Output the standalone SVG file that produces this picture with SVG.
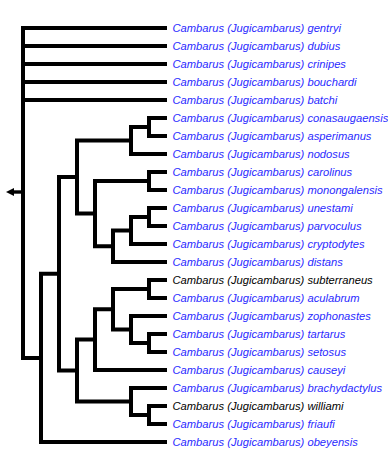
<svg xmlns="http://www.w3.org/2000/svg" width="388" height="453" viewBox="0 0 388 453">
<style>
.e{fill:none;stroke:#000;stroke-width:4;stroke-linejoin:miter;stroke-linecap:butt}
.t{font-family:"Liberation Sans",Arial,sans-serif;font-style:italic;font-size:11.2px;fill:#2a2aff}
.k{fill:#000}
</style>
<rect width="388" height="453" fill="#fff"/>
<g id="connectors">
<polygon points="6,192 14,188 14,196" fill="#000"/>
<line x1="14" y1="192" x2="23" y2="192" stroke="#000" stroke-width="3.4"/>
<path class="e" d="M167 28 H23 V357.9 H41 M23 46 H167 M23 64 H167 M23 82 H167 M23 100 H167"/>
<path class="e" d="M59 273.8 H41 V442 H167"/>
<path class="e" d="M77 177.06 H59 V370.56 H77"/>
<path class="e" d="M131 140.5 H77 V213.6 H95"/>
<path class="e" d="M149 127 H131 V154 H167"/>
<path class="e" d="M167 118 H149 V136 H167"/>
<path class="e" d="M149 181 H95 V246.25 H113"/>
<path class="e" d="M167 172 H149 V190 H167"/>
<path class="e" d="M131 230.5 H113 V262 H167"/>
<path class="e" d="M149 217 H131 V244 H167"/>
<path class="e" d="M167 208 H149 V226 H167"/>
<path class="e" d="M95 339.6 H77 V401.5 H131"/>
<path class="e" d="M113 309.25 H95 V370 H167"/>
<path class="e" d="M149 289 H113 V329.5 H131"/>
<path class="e" d="M167 280 H149 V298 H167"/>
<path class="e" d="M167 316 H131 V343 H149"/>
<path class="e" d="M167 334 H149 V352 H167"/>
<path class="e" d="M167 388 H131 V415 H149"/>
<path class="e" d="M167 406 H149 V424 H167"/>
</g>
<g id="gentryi"><text class="t" x="172.5" y="32">Cambarus (Jugicambarus) gentryi</text></g>
<g id="dubius"><text class="t" x="172.5" y="50">Cambarus (Jugicambarus) dubius</text></g>
<g id="crinipes"><text class="t" x="172.5" y="68">Cambarus (Jugicambarus) crinipes</text></g>
<g id="bouchardi"><text class="t" x="172.5" y="86">Cambarus (Jugicambarus) bouchardi</text></g>
<g id="batchi"><text class="t" x="172.5" y="104">Cambarus (Jugicambarus) batchi</text></g>
<g id="conasaugaensis"><text class="t" x="172.5" y="122">Cambarus (Jugicambarus) conasaugaensis</text></g>
<g id="asperimanus"><text class="t" x="172.5" y="140">Cambarus (Jugicambarus) asperimanus</text></g>
<g id="nodosus"><text class="t" x="172.5" y="158">Cambarus (Jugicambarus) nodosus</text></g>
<g id="carolinus"><text class="t" x="172.5" y="176">Cambarus (Jugicambarus) carolinus</text></g>
<g id="monongalensis"><text class="t" x="172.5" y="194">Cambarus (Jugicambarus) monongalensis</text></g>
<g id="unestami"><text class="t" x="172.5" y="212">Cambarus (Jugicambarus) unestami</text></g>
<g id="parvoculus"><text class="t" x="172.5" y="230">Cambarus (Jugicambarus) parvoculus</text></g>
<g id="cryptodytes"><text class="t" x="172.5" y="248">Cambarus (Jugicambarus) cryptodytes</text></g>
<g id="distans"><text class="t" x="172.5" y="266">Cambarus (Jugicambarus) distans</text></g>
<g id="subterraneus"><text class="t k" x="172.5" y="284">Cambarus (Jugicambarus) subterraneus</text></g>
<g id="aculabrum"><text class="t" x="172.5" y="302">Cambarus (Jugicambarus) aculabrum</text></g>
<g id="zophonastes"><text class="t" x="172.5" y="320">Cambarus (Jugicambarus) zophonastes</text></g>
<g id="tartarus"><text class="t" x="172.5" y="338">Cambarus (Jugicambarus) tartarus</text></g>
<g id="setosus"><text class="t" x="172.5" y="356">Cambarus (Jugicambarus) setosus</text></g>
<g id="causeyi"><text class="t" x="172.5" y="374">Cambarus (Jugicambarus) causeyi</text></g>
<g id="brachydactylus"><text class="t" x="172.5" y="392">Cambarus (Jugicambarus) brachydactylus</text></g>
<g id="williami"><text class="t k" x="172.5" y="410">Cambarus (Jugicambarus) williami</text></g>
<g id="friaufi"><text class="t" x="172.5" y="428">Cambarus (Jugicambarus) friaufi</text></g>
<g id="obeyensis"><text class="t" x="172.5" y="446">Cambarus (Jugicambarus) obeyensis</text></g>
</svg>
